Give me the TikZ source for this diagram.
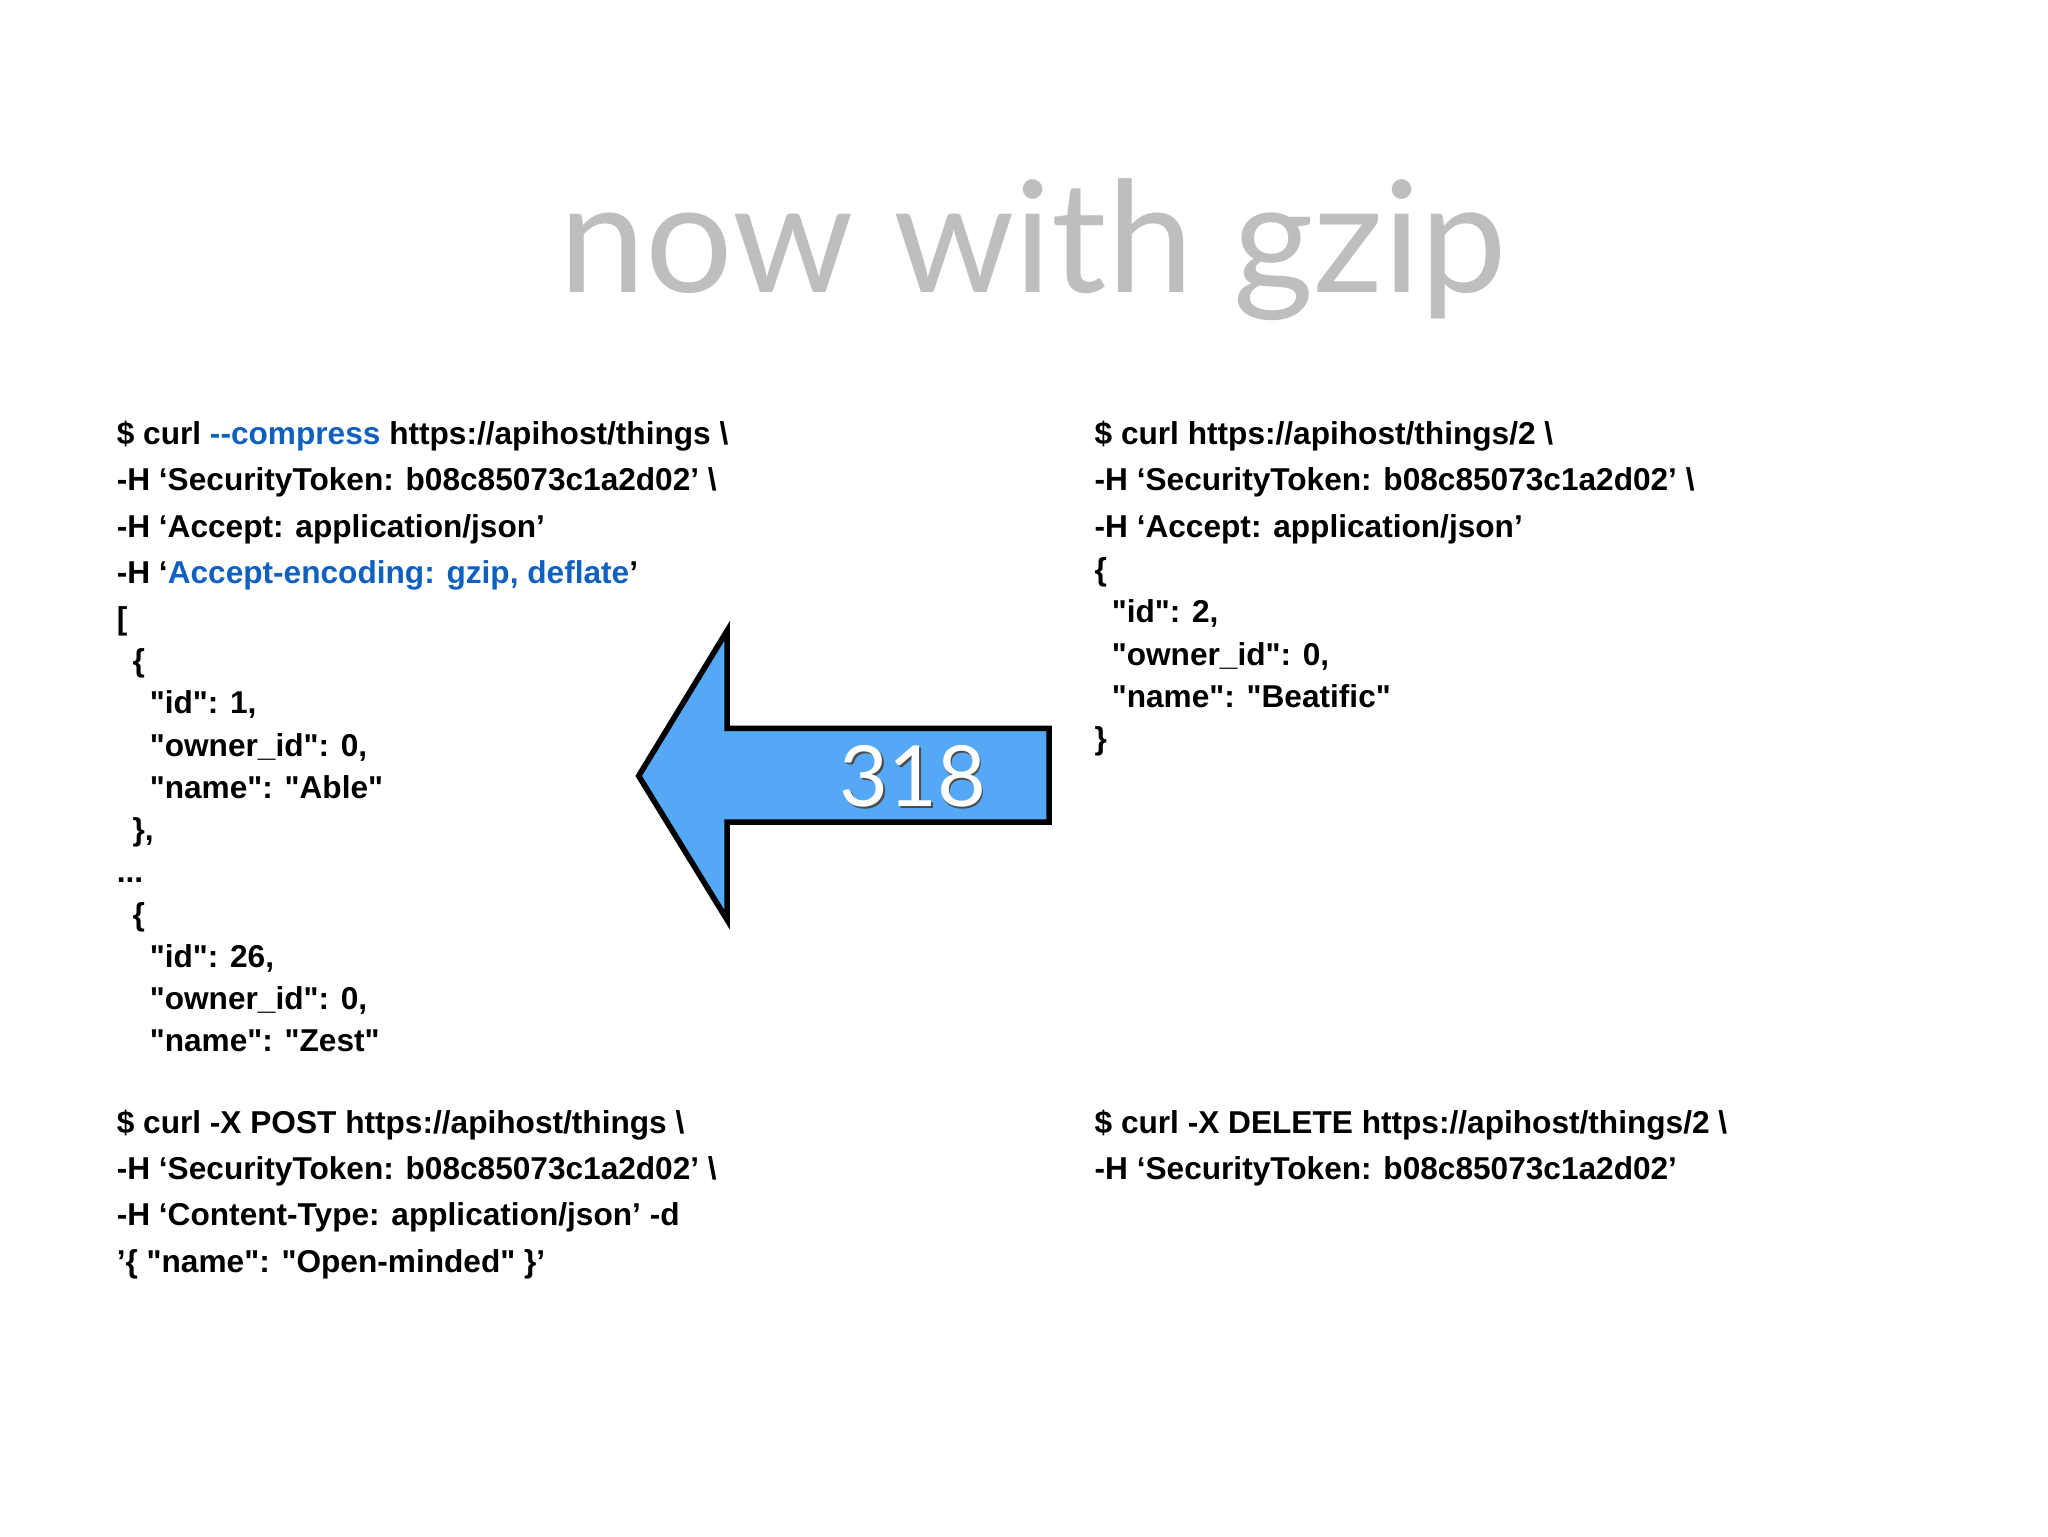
\documentclass[tikz,border=0pt]{standalone}
\usepackage{fontspec}
\newfontfamily\codefont{Liberation Sans}
\newfontfamily\titlefont{Lato}
\usetikzlibrary{positioning}
\definecolor{titlegray}{RGB}{190,190,190}
\definecolor{keyblue}{RGB}{16,96,192}
\definecolor{arrowblue}{RGB}{85,168,245}
\tikzset{
  codeline/.style={anchor=base west, inner sep=0pt, font=\codefont\bfseries\fontsize{9}{10}\selectfont},
}
\newcommand{\bsl}{\textbackslash}
\newcommand{\hl}[1]{\textcolor{keyblue}{#1}}
\begin{document}
\begin{tikzpicture}[x=0.0132cm,y=-0.0132cm]
    \useasboundingbox (0,0) rectangle (1552,1164);

    % Title
    \node[anchor=base, inner sep=0pt, text=titlegray, font=\titlefont\fontsize{44}{50}\selectfont] (title) at (783,222) {now with gzip};

    % Left block: GET list
    \node[codeline] (l1) at (88,337) {\$ curl \hl{-{}-compress} https://apihost/things \bsl};
    \node[codeline] (l2) at (88,372) {-H ‘SecurityToken: b08c85073c1a2d02’ \bsl};
    \node[codeline] (l3) at (88,407) {-H ‘Accept: application/json’};
    \node[codeline] (l4) at (88,442) {-H ‘\hl{Accept-encoding: gzip, deflate}’};
    \node[codeline] (l5) at (88,477) {[};
    \node[codeline] (l6) at (100,509) {\{};
    \node[codeline] (l7) at (113,541) {"id": 1,};
    \node[codeline] (l8) at (113,573) {"owner\_id": 0,};
    \node[codeline] (l9) at (113,605) {"name": "Able"};
    \node[codeline] (l10) at (100,637) {\},};
    \node[codeline] (l11) at (88,669) {...};
    \node[codeline] (l12) at (100,701) {\{};
    \node[codeline] (l13) at (113,733) {"id": 26,};
    \node[codeline] (l14) at (113,765) {"owner\_id": 0,};
    \node[codeline] (l15) at (113,797) {"name": "Zest"};

    % Right block: GET one
    \node[codeline] (r1) at (829,337) {\$ curl https://apihost/things/2 \bsl};
    \node[codeline] (r2) at (829,372) {-H ‘SecurityToken: b08c85073c1a2d02’ \bsl};
    \node[codeline] (r3) at (829,407) {-H ‘Accept: application/json’};
    \node[codeline] (r4) at (829,440) {\{};
    \node[codeline] (r5) at (842,472) {"id": 2,};
    \node[codeline] (r6) at (842,504) {"owner\_id": 0,};
    \node[codeline] (r7) at (842,536) {"name": "Beatific"};
    \node[codeline] (r8) at (829,568) {\}};

    % Bottom blocks: POST and DELETE
    \node[codeline] (p1) at (88,859) {\$ curl -X POST https://apihost/things \bsl};
    \node[codeline] (p2) at (88,894) {-H ‘SecurityToken: b08c85073c1a2d02’ \bsl};
    \node[codeline] (p3) at (88,929) {-H ‘Content-Type: application/json’ -d};
    \node[codeline] (p4) at (88,964) {’\{ "name": "Open-minded" \}’};
    \node[codeline] (d1) at (829,859) {\$ curl -X DELETE https://apihost/things/2 \bsl};
    \node[codeline] (d2) at (829,894) {-H ‘SecurityToken: b08c85073c1a2d02’};

    % Big arrow
    \draw[line width=1.6pt, fill=arrowblue, line join=miter]
        (484,588) -- (551,478) -- (551,552) -- (795,552) -- (795,623)
        -- (551,623) -- (551,697) -- cycle;
    \node[text=black!70, font=\titlefont\fontsize{24}{24}\selectfont] at (693,590) {318};
    \node[text=white, font=\titlefont\fontsize{24}{24}\selectfont] (count) at (692,588) {318};
\end{tikzpicture}
\end{document}
